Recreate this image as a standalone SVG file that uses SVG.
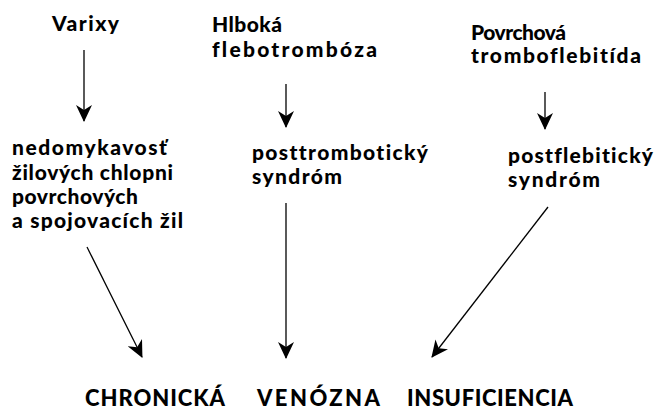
<svg xmlns="http://www.w3.org/2000/svg" width="656" height="414" viewBox="0 0 656 414">
<defs>
<style>
.t{font-family:Lato,"Open Sans","Liberation Sans",sans-serif;font-weight:900;font-size:21px;fill:#000;font-variant-ligatures:none}
.b{font-size:22px}
.c{fill:none;stroke:#000;stroke-width:1.3}
</style>
<marker id="ah" markerWidth="18" markerHeight="16" refX="16" refY="8" orient="auto" markerUnits="userSpaceOnUse">
<path d="M0,0 L17,8 L0,16 L5,8 Z" fill="#000"/>
</marker>
</defs>
<rect width="656" height="414" fill="#fff"/>
<g id="varixy"><text class="t" x="52" y="31" textLength="67" lengthAdjust="spacing">Varixy</text></g>
<g id="hlboka"><text class="t" x="212" y="32" textLength="70" lengthAdjust="spacing">Hlboká</text><text class="t" x="212" y="57" textLength="165" lengthAdjust="spacing">flebotrombóza</text></g>
<g id="povrchova"><text class="t" x="471" y="40" textLength="95" lengthAdjust="spacing">Povrchová</text><text class="t" x="471" y="63" textLength="170" lengthAdjust="spacing">tromboflebitída</text></g>
<g id="nedomykavost">
<text class="t" x="12" y="155" textLength="155" lengthAdjust="spacing">nedomykavosť</text>
<text class="t" x="12" y="180" textLength="161" lengthAdjust="spacing">žilových chlopni</text>
<text class="t" x="12" y="204" textLength="126" lengthAdjust="spacing">povrchových</text>
<text class="t" x="12" y="228" textLength="171" lengthAdjust="spacing">a spojovacích žil</text>
</g>
<g id="posttromboticky"><text class="t" x="252" y="160" textLength="176" lengthAdjust="spacing">posttrombotický</text><text class="t" x="252" y="184" textLength="90" lengthAdjust="spacing">syndróm</text></g>
<g id="postflebiticky"><text class="t" x="508" y="163" textLength="145" lengthAdjust="spacing">postflebitický</text><text class="t" x="508" y="187" textLength="92" lengthAdjust="spacing">syndróm</text></g>
<g id="cvi"><text class="t b" x="85" y="406" textLength="140" lengthAdjust="spacing">CHRONICKÁ</text><text class="t b" x="257" y="406" textLength="123" lengthAdjust="spacing">VENÓZNA</text><text class="t b" x="407" y="406" textLength="166" lengthAdjust="spacing">INSUFICIENCIA</text></g>
<g id="connectors">
<line class="c" x1="84" y1="50" x2="84" y2="121" marker-end="url(#ah)"/>
<line class="c" x1="286" y1="84" x2="286" y2="127" marker-end="url(#ah)"/>
<line class="c" x1="545" y1="92" x2="545" y2="129" marker-end="url(#ah)"/>
<line class="c" x1="87" y1="247" x2="142" y2="357" marker-end="url(#ah)"/>
<line class="c" x1="286" y1="203" x2="286" y2="358" marker-end="url(#ah)"/>
<line class="c" x1="548" y1="207" x2="432" y2="357" marker-end="url(#ah)"/>
</g>
</svg>
